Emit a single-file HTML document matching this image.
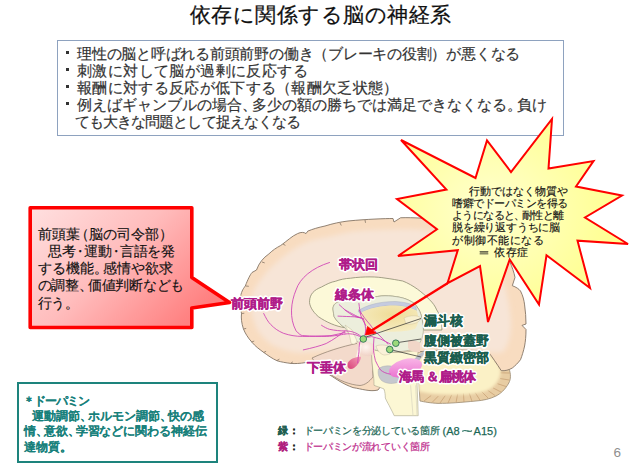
<!DOCTYPE html>
<html><head><meta charset="utf-8">
<style>
html,body{margin:0;padding:0;background:#fff;}
body{width:640px;height:474px;position:relative;overflow:hidden;font-family:"Liberation Sans",sans-serif;}
.a{position:absolute;white-space:nowrap;}
#title{left:0;width:640px;top:2px;text-align:center;font-size:21px;line-height:26px;color:#111;letter-spacing:0.5px;text-indent:1px;-webkit-text-stroke:0.25px #111;}
#bul{left:57px;top:40px;width:505px;height:94px;border:1px solid #8ea2bf;box-sizing:content-box;}
.bt{font-size:15px;line-height:17px;color:#333;-webkit-text-stroke:0.2px #333;}
.dot{position:absolute;width:3px;height:3px;background:#333;}
#svg{position:absolute;left:0;top:0;}
.rt{font-size:13.5px;line-height:17.3px;color:#111;-webkit-text-stroke:0.15px #111;}
.p{letter-spacing:-0.35em;}
.pl{margin-left:-0.35em;}
.pc{margin:0 -0.18em;}
.st{font-size:10.5px;line-height:12.3px;color:#111;-webkit-text-stroke:0.15px #111;}
#gbox{left:17px;top:382px;width:197px;height:77px;border:2.5px solid #1d837c;}
.gt{font-size:11.5px;line-height:15.2px;color:#16807a;font-weight:bold;-webkit-text-stroke:0.01px #16807a;}
.lg{font-size:10px;line-height:14px;-webkit-text-stroke:0.25px currentColor;}
#pg{left:613.5px;top:444.5px;font-size:13.5px;color:#8f8f8f;}
</style></head><body>
<div id="title" class="a">依存に関係する脳の神経系</div>
<div id="bul" class="a"></div>
<div class="dot" style="left:66px;top:51px"></div><div class="dot" style="left:66px;top:68px"></div><div class="dot" style="left:66px;top:85px"></div><div class="dot" style="left:66px;top:102px"></div>
<div class="a bt" style="left:77px;top:45px;letter-spacing:-0.23px">理性の脳と呼ばれる前頭前野の働き（ブレーキの役割）が悪くなる</div>
<div class="a bt" style="left:77px;top:62px;letter-spacing:0.4px">刺激に対して脳が過剰に反応する</div>
<div class="a bt" style="left:77px;top:79px;letter-spacing:0.32px">報酬に対する反応が低下する（報酬欠乏状態）</div>
<div class="a bt" style="left:77px;top:96px;letter-spacing:0px">例えばギャンブルの場合<span class="p">、</span>多少の額の勝ちでは満足できなくなる<span class="p">。</span>負け</div>
<div class="a bt" style="left:75px;top:113px;letter-spacing:-0.94px">ても大きな問題として捉えなくなる</div>

<svg id="svg" width="640" height="474" viewBox="0 0 640 474">
<defs>
<linearGradient id="rg" x1="0" y1="0" x2="1" y2="0.6">
<stop offset="0" stop-color="#ffe0e0"/><stop offset="0.5" stop-color="#ffbcbc"/><stop offset="1" stop-color="#ff8080"/>
</linearGradient>
<radialGradient id="yg" cx="0.4" cy="0.45" r="0.6">
<stop offset="0" stop-color="#ffffd0"/><stop offset="1" stop-color="#ffff8c"/>
</radialGradient>
<radialGradient id="cg" cx="0.45" cy="0.55" r="0.6">
<stop offset="0" stop-color="#fbe9dc"/><stop offset="0.7" stop-color="#f8dfca"/><stop offset="1" stop-color="#f0c9a6"/>
</radialGradient>
</defs>

<!-- BRAIN -->
<g id="brain">
<filter id="bl" x="-10%" y="-10%" width="120%" height="120%"><feGaussianBlur stdDeviation="2.5"/></filter>
<filter id="bl2" x="-10%" y="-10%" width="120%" height="120%"><feGaussianBlur stdDeviation="1.5"/></filter>
<!-- cerebellum -->
<path d="M417 352 C440 350 470 349 488.6 351.5 C498 356 506 362 508.8 368 C511 374 511 379 508.8 383 C505 390 500 394 496 396 C490 399 483 400.5 476 401 C460 402.5 450 403.4 438 403.4 C430 403 425 402 420 401 Z" fill="#e8cda3" stroke="#9a8a72" stroke-width="0.8"/>
<path d="M424.0 401.0 L431.2 395.5 M432.0 402.5 L438.3 396.1 M440.0 403.0 L445.2 395.7 M448.0 403.0 L451.7 394.8 M456.0 402.6 L457.7 393.8 M464.0 402.0 L463.4 393.0 M472.0 401.3 L469.1 392.8 M480.0 400.2 L475.2 392.6 M488.0 398.0 L481.6 391.6 M495.0 395.5 L487.7 390.3 M501.0 392.0 L493.0 387.9 M506.0 386.5 L497.5 383.7 M509.0 380.0 L500.1 378.5 M509.5 373.0 L500.5 372.8 M507.0 366.0 L498.1 367.2 M502.0 360.0 L493.4 362.6" stroke="#c49c70" stroke-width="0.7" fill="none"/>
<path d="M418 353 C440 351 470 350 487 353 C495 358 500 364 500.5 372 C500 380 495 386 488 390 C478 394.5 460 395 445 394.5 C432 394 424 393 419 391 Z" fill="#fbf1c6" filter="url(#bl2)"/>
<!-- cerebrum -->
<path id="cer" d="M306 362.5 C300 363.5 295 363.8 290.7 363.4 C286 362.8 281 362 277.2 360.8 C272 358.5 268 355.5 263.7 352.4 C259 349 255 346 252 342.3 C248 338 245 333 243.4 328.8 C241.5 323 241 318 241.5 313.6 C240.5 308 239.5 303 240.2 299 C241 292 243 289 245.3 286 C248 279 250 275 252 272.5 L256.5 270 C259 263 263 258 268.9 253.9 C273 250 276 248 280.7 245.5 C287 241 292 236 297.6 233.6 C301 232 304 232 306 233.6 L307.8 231.1 C313 229 318 227.5 325 226 C333 223.5 340 222 348 221 C358 220 366 219.5 376 219 C383 218.7 388 218.5 393 218.5 L394 222 L400.6 217.75 C408 217.5 414 217.8 419 218 C450 220 480 228 500 245 C505 250 507 255 509.6 261 C512 267 514 272 515 277.4 L512.3 285.7 C516 287 519 289 520.5 291 C523 296 524 300 524.6 304.9 C525.5 311 526 318 526 324 L522 325.4 L526 329.5 C526 336 525.5 341 524.6 346 C523.5 351 522 356 520.5 359.7 C518 363 515 366 512.3 368 C509 370 505 371 501.3 370.7 C497 364 492 357 488.6 352 C480 350 470 349.5 460 349.5 C445 349.5 430 350.5 418 352 L400 360 L378 390 C370 392 362 389 353 387.6 C343 384 336 379 330 375 C320 370 312 364 306 362.5 Z" fill="#f8dcc0" stroke="#857565" stroke-width="0.9"/>
<path id="ticks" d="M241.5 313.5 L244.3 313.2 M243.5 329.0 L246.2 328.4 M251.5 342.0 L254.2 341.1 M263.5 352.5 L266.1 351.3 M277.0 360.5 L279.4 359.1 M290.5 363.5 L292.8 361.9 M246.0 286.0 L248.8 286.3 M262.0 262.0 L264.7 262.9 M283.0 244.0 L285.4 245.4 M340.0 223.0 L341.3 225.5 M365.0 220.0 L365.5 222.8 M440.0 220.5 L438.3 222.7" stroke="#857565" stroke-width="0.8" fill="none"/>
<path d="M300 353 C290 352 280 349 272 345 C264 339 257 332 255 324 C251 314 250 306 251 299 C253 290 257 284 262 278 C267 271 272 266 277 262 C285 255 294 248 303 244 C311 240 320 238 328 237 C336 235 343 233 350 232 C358 231 366 230 376 230 C392 229.5 405 229 418 229.5 C445 231 470 240 488 254 C496 262 500 270 503 280 C507 292 510 308 511 322 C511 334 509 344 503 352 C495 354 470 350 440 348 C410 346 390 346 371 347 C350 348 330 351 300 353 Z" fill="#f7e5d7" filter="url(#bl)"/>
<!-- temporal lobe -->
<path d="M312 358 C325 352 340 347 358.5 343 L372 349.5 C372 358 372.5 368 373 377 C369 382 365 385 360 385.5 C350 385 338 380 330 374 C322 369 316 364 312 358 Z" fill="#f3dacb" stroke="#8a7a6a" stroke-width="0.7"/>
<!-- brainstem -->
<path d="M371.5 349 C371.5 358 372.5 368 373.5 376 C374 380 374 383 374 385.3 C378 387 382 388 384 389 C385 392 385.3 395 385.3 398 C387 402 389 405 390.4 408 C392 411 393 413 394.2 415.7 L418.2 415.7 C418 405 417.5 395 417 385 C417 375 417.5 362 418 350 C405 353 385 354 371.5 349 Z" fill="#fcf7d4" stroke="#a8a48c" stroke-width="0.6"/>
<path d="M410.6 385.3 L413 415.7 M415.7 385.3 L417 415.7" stroke="#d8d4c0" stroke-width="0.7"/>
<!-- corpus callosum -->
<path d="M345 327.7 C336 326.5 326 322 318.3 316.6 C312 311 309 305 309.6 300.8 C310 294 314 290 321.5 287 C327 284 331 282 335.4 281.3 C340 279.5 345 278.5 350.6 278.2 C357 277.2 364 276.9 370 276.9 C376 276.9 381 277.4 385 278.1 C392 279 397 280 402.7 281 C408 283 413 286 417.5 289.2 C422 292.5 426 296 429.3 299.5 C433 303 435 306 436.7 309.9 C439 313 440 317 441 320.2 C441.5 324 441.9 327 441.9 330 L423.4 330 C423 325 422.5 321 422 318.7 C421 314 420 312 419 309.9 C416 305 414 303 411.6 301.8 C407 299 403 298 399.8 297.3 C395 296.3 390 295.8 385 295.8 C380 295.8 375 297 370 297.8 C365 297.8 361 298 357 298.4 C352 299 348 299.5 344.3 300.3 C340 301 337 302 335.4 303.5 C333.5 305 333 307 333 309.2 C333.3 312 333.7 314.5 334.2 316.8 C336 320 339 323 341.8 325.6 L345 327.7 Z" fill="#fcf9d8" stroke="#8c8a70" stroke-width="0.8"/>
<!-- interior diencephalon -->
<path d="M333 309.2 C333 307 333.5 305 335.4 303.5 C337 302 340 301 344.3 300.3 C348 299.5 352 299 357 298.4 C361 298 365 297.8 370 297.8 C375 297 380 295.8 385 295.8 C390 295.8 395 296.3 399.8 297.3 C403 298 407 299 411.6 301.8 C414 303 416 305 419 309.9 C420 312 421 314 422 318.7 C422.5 321 423 325 423.4 330 C423 338 420 345 414 349 C400 353 385 353 371.5 349 C362 345 352 340 345 327.7 L341.8 325.6 C339 323 336 320 334.2 316.8 C333.7 314.5 333.3 312 333 309.2 Z" fill="#eceedc" stroke="#a4a48c" stroke-width="0.6"/>
<!-- ventricle -->
<path d="M358 311 C366 305 380 301.5 395 301.5 C405 302 412 304 416 307 L416.5 310.5 C410 307.5 404 305.8 395 305.5 C382 305.5 368 308 360 313.5 Z" fill="#c5cbdf" stroke="#a0a6bc" stroke-width="0.4"/>
<!-- thalamus -->
<defs><radialGradient id="thg" cx="0.55" cy="0.35" r="0.7"><stop offset="0" stop-color="#efdc98"/><stop offset="1" stop-color="#f6edc4"/></radialGradient></defs>
<path d="M360 313.5 C368 308 382 305.5 395 305.5 C404 305.8 410 307.5 416.5 310.5 C419 316 419 324 415 329 C405 332 385 333 372 330 C365 326 361 319 360 313.5 Z" fill="url(#thg)"/>
<!-- small cream shapes -->
<path d="M404 318 C410 315 418 315 421 318 C420 322 414 325 406 324 Z" fill="#f8f0d0" stroke="#c8bc98" stroke-width="0.4"/>
<path d="M345 325 C348 330 350 336 351 343 C353 345 356 344 357 341 L352 330 Z" fill="#fcf8e0" stroke="#b8b090" stroke-width="0.4"/>
<!-- hypothalamus pinkish -->
<defs><radialGradient id="hyg" cx="0.5" cy="0.4" r="0.6"><stop offset="0" stop-color="#fff6f0"/><stop offset="1" stop-color="#f0d2c6"/></radialGradient></defs>
<path d="M357 343 C362 340 370 341 374 345 C376 350 374 354 370 356 C365 357 360 354 357 350 Z" fill="url(#hyg)"/>
<path d="M376 346 C381 344 388 345 392 348 C394 352 390 355 384 355 C380 354 377 350 376 346 Z" fill="#faf1d8" stroke="#c0b498" stroke-width="0.4"/>
<path d="M408 341 C413 340 418 341 420 343 L420 352 C415 353 410 351 408 348 Z" fill="#f1d6c8"/>
<!-- gray blob & hippocampus -->
<path d="M414.4 359 C417 356 420 353 423.3 351.4 L424 354 C422 357 419 361 417 363 Z" fill="#b9bdc8"/>
<path d="M378.5 369 C382 365.5 389 365 395 367 C400 370 401.5 377 399.5 381.5 C394 384.5 386 384 381.5 380.5 C378.5 377.5 377.5 373 378.5 369 Z" fill="#c6c8ce" stroke="#a0a2a8" stroke-width="0.4"/>
<defs><linearGradient id="hpg" x1="0" y1="1" x2="0.6" y2="0"><stop offset="0" stop-color="#e868cc"/><stop offset="1" stop-color="#f8b4e6"/></linearGradient></defs>
<ellipse cx="405.5" cy="368" rx="17" ry="8.8" transform="rotate(-16 405.5 368)" fill="url(#hpg)"/>
<!-- pituitary -->
<defs><linearGradient id="ptg" x1="0" y1="1" x2="1" y2="0"><stop offset="0" stop-color="#d84078"/><stop offset="1" stop-color="#f4a0b8"/></linearGradient></defs>
<path d="M356 358 C357 352 358 348 359.5 344 L362 345 C361 350 360 354 359.5 358 Z" fill="#fbf3ea"/>
<path d="M347.5 366 C347 362 350 359.5 354 358 C357 357 360 356.5 361 357 C361 360 358 365 354 368 C351 370 348 369 347.5 366 Z" fill="url(#ptg)"/>
<!-- pink lines -->
<g fill="none" stroke="#cf3fb5" stroke-width="0.85" stroke-linecap="round">
<path d="M329.5 262.5 C312 268 300 278 296 290 C291 302 289 318 296.1 330.9 C299 334 301 335.5 302.5 335.6 C312 336.4 320 336.4 326.2 336.4 C335 336 340 335 345 334"/>
<path d="M263.7 313.5 C266 318 268 322 270.8 324.6 C274 328 278 331 283.5 333.3 C290 335.5 296 336.4 302.5 336.4 C312 336.4 322 336 331 335.6 C336 334.5 341 333.5 345 332.5"/>
<path d="M303.3 349.9 C312 348 320 346 326.2 343.5 C333 340 340 335 345 330.9"/>
<path d="M321.5 325.3 C324 327 327 328.5 329.4 329.3 C335 330.5 340 330.9 345 330.9 C352 330.9 358 333 363.4 338.5"/>
<path d="M345 334 C352 333 358 335 363.4 338.5"/>
<path d="M339.2 304.7 C344 309 348 313 353.1 315.5 C356 316.8 359 317.5 362 318"/>
<path d="M338 316.1 C344 316.4 350 316.6 354.4 316.8 C358 317.3 361 318 363.3 318.7"/>
<path d="M358.9 303.5 C359.5 308 360 312 360.8 315.5 C362 319 364 322 365.8 325.6"/>
<path d="M363.3 318.7 C365 323 366 328 365.5 332 C365 335 364 337 363.4 338.5"/>
<path d="M345 310 C352 313.5 356 316 360 317.6"/>
<path d="M359 310 C362 314 365 318.9 365.3 318.9 C367 321 368.5 323 370.4 325 C372 327.5 374 330 376.7 332.8 C379 335 381 337 383 339.1 C385 341 386.5 343 388 344.2"/>
<path d="M363.4 338.5 C366 337.5 369 336.8 371.6 336.6 C375 337.5 378 338.3 380.5 339 C384 340.5 387.5 342.5 390.6 344.2"/>
<path d="M363.4 338.5 C361 340 360 341.5 359.6 343 C359 346 359 349 359 351.8 C358.5 355 358 359 357.7 363"/>
<path d="M374 337.8 C373.5 342 373.5 346 373.5 350.5 C374 354 374.5 357 375.4 360.6 C377 364 378.5 367 380.5 370 C383 372 386 373.5 390.4 374.2"/>
</g>
<!-- black leader lines -->
<g stroke="#2a2a2a" stroke-width="0.7">
<line x1="366" y1="337" x2="421" y2="318.5"/>
<line x1="398" y1="342.5" x2="421" y2="339"/>
<line x1="392" y1="350" x2="421" y2="357"/>
</g>
<!-- green dots -->
<g fill="#9cd97a" stroke="#2f7458" stroke-width="0.9">
<circle cx="363.3" cy="339" r="3.3"/>
<circle cx="395.8" cy="343.2" r="3.3"/>
<circle cx="389.7" cy="349.5" r="3.3"/>
</g>
<!-- labels -->
<g font-family="Liberation Sans, sans-serif" font-weight="bold" font-size="12.5" stroke-linejoin="round" stroke-width="3.5">
<g fill="#b01c8a" stroke="#fff">
<text x="231" y="307.5">前頭前野</text>
<text x="339" y="268.5">帯状回</text>
<text x="335" y="299">線条体</text>
<text x="306.5" y="371.5">下垂体</text>
<text x="398.5" y="381" letter-spacing="-0.6">海馬 ＆扁桃体</text>
</g>
<g fill="#1b5e4e" stroke="#fff">
<text x="423.5" y="324.5">漏斗核</text>
<text x="423.5" y="344.5">腹側被蓋野</text>
<text x="423.5" y="361.5">黒質緻密部</text>
</g>
</g>
<g font-family="Liberation Sans, sans-serif" font-weight="bold" font-size="12.5" stroke-linejoin="round" stroke-width="0.4">
<g fill="#b01c8a" stroke="#b01c8a">
<text x="231" y="307.5">前頭前野</text>
<text x="339" y="268.5">帯状回</text>
<text x="335" y="299">線条体</text>
<text x="306.5" y="371.5">下垂体</text>
<text x="398.5" y="381" letter-spacing="-0.6">海馬 ＆扁桃体</text>
</g>
<g fill="#1b5e4e" stroke="#1b5e4e">
<text x="423.5" y="324.5">漏斗核</text>
<text x="423.5" y="344.5">腹側被蓋野</text>
<text x="423.5" y="361.5">黒質緻密部</text>
</g>
</g>
</g>

<!-- red callout -->
<path d="M30.2 207.8 L191.8 207.8 L191.8 277.5 L229.5 302.5 L191.8 308 L191.8 327.5 L30.2 327.5 Z" fill="url(#rg)" stroke="#ff0000" stroke-width="3.6" stroke-linejoin="round"/>

<!-- starburst -->
<path d="M401 140 L475.5 178 L487 140.5 L511 172 L552 119 L548.5 168.5 L593.5 161 L576 186.5 L622 195.5 L585 217.5 L628 244 L577.5 240.7 L590 288 L546.5 255.3 L539 304.5 L509.7 259.5 L488 322 L480 266 L447.5 283.2 L457.8 250.2 L398 256 L437 229.3 L397 199 L446.4 189.5 Z" fill="url(#yg)" stroke="#ff0000" stroke-width="2" stroke-linejoin="miter"/>
<line x1="447.5" y1="283.2" x2="370" y2="331.5" stroke="#ff0000" stroke-width="2.4"/>
<path d="M365.5 335 L367.5 326.5 L376 333 Z" fill="#ff0000" stroke="#ff0000" stroke-width="0.8" stroke-linejoin="round"/>
</svg>

<!-- brain labels -->


<div class="a rt" style="left:37.5px;top:225.5px;letter-spacing:0px">前頭葉<span class="pl">（</span>脳の司令部<span class="p">）</span></div>
<div class="a rt" style="left:48px;top:242.8px;letter-spacing:-0.36px">思考<span class="pc">・</span>運動<span class="pc">・</span>言語を発</div>
<div class="a rt" style="left:37.5px;top:260.1px;letter-spacing:0px">する機能<span class="p">。</span>感情や欲求</div>
<div class="a rt" style="left:37.5px;top:277.4px;letter-spacing:-0.27px">の調整<span class="p">、</span>価値判断なども</div>
<div class="a rt" style="left:37.5px;top:294.7px;letter-spacing:-0.5px">行う<span class="p">。</span></div>

<div class="a st" style="left:468.5px;top:184.5px;letter-spacing:0px">行動ではなく物質や</div>
<div class="a st" style="left:452px;top:196.8px;letter-spacing:-0.46px">嗜癖でドーパミンを得る</div>
<div class="a st" style="left:452px;top:209.1px;letter-spacing:-0.6px">ようになると<span class="p">、</span>耐性と離</div>
<div class="a st" style="left:452px;top:221.4px;letter-spacing:-0.2px">脱を繰り返すうちに脳</div>
<div class="a st" style="left:452px;top:233.7px;letter-spacing:0.5px">が制御不能になる</div>
<div class="a st" style="left:479px;top:246px;letter-spacing:0.6px"><span style="display:inline-block;transform:scaleX(1.45)">＝</span> 依存症</div>

<div id="gbox" class="a"></div>
<div class="a gt" style="left:23px;top:394px;letter-spacing:-1.1px">＊ドーパミン</div>
<div class="a gt" style="left:32px;top:409.2px;letter-spacing:0px">運動調節<span class="p">、</span>ホルモン調節<span class="p">、</span>快の感</div>
<div class="a gt" style="left:24px;top:424.4px;letter-spacing:-0.1px">情<span class="p">、</span>意欲<span class="p">、</span>学習などに関わる神経伝</div>
<div class="a gt" style="left:24px;top:439.6px;letter-spacing:0px">達物質<span style="letter-spacing:-0.2em">。</span></div>

<div class="a lg" style="left:277.5px;top:424px;color:#1f5e50;font-weight:bold">緑</div>
<div class="a lg" style="left:288.5px;top:424px;color:#222;font-weight:bold">：</div>
<div class="a lg" style="left:303.5px;top:424px;color:#1c6856;letter-spacing:-0.3px">ドーパミンを分泌している箇所</div>
<div class="a lg" style="left:442.5px;top:424px;color:#1c6856;font-size:11px;word-spacing:-1px">(A8 <span style="display:inline-block;transform:scaleX(1.7);margin:0 2px">~</span> A15)</div>
<div class="a lg" style="left:277.5px;top:440px;color:#b0207e;font-weight:bold">紫</div>
<div class="a lg" style="left:288.5px;top:440px;color:#222;font-weight:bold">：</div>
<div class="a lg" style="left:303.5px;top:440px;color:#c0308e;letter-spacing:-0.3px">ドーパミンが流れていく箇所</div>
<div id="pg" class="a">6</div>
</body></html>
